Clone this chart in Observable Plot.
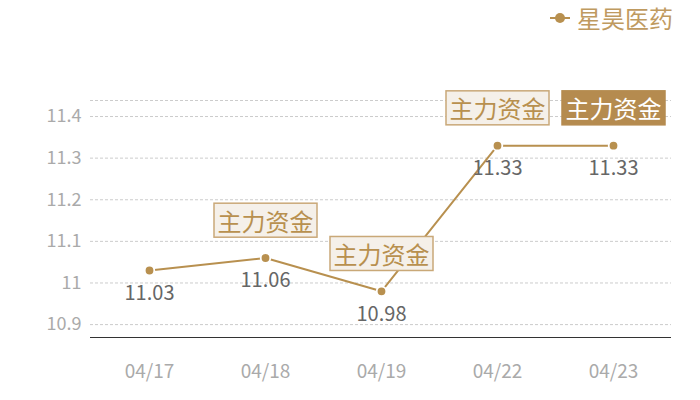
<!DOCTYPE html>
<html>
<head>
<meta charset="utf-8">
<script src="https://cdn.jsdelivr.net/npm/d3@7"></script>
<script src="https://cdn.jsdelivr.net/npm/@observablehq/plot@0.6"></script>
<style>
  html, body { margin: 0; padding: 0; background: #fff; }
  body { width: 700px; height: 400px; position: relative; overflow: hidden; font-family: "Noto Sans CJK SC", "Noto Sans", sans-serif; }
  #legend { position: absolute; top: 2px; left: 549px; display: flex; align-items: center; color: #bf9a60; font-size: 24px; line-height: 32px; }
  #legend svg { margin-right: 6px; }
  #chart { position: absolute; top: 0; left: 0; }
</style>
</head>
<body>
<div id="chart"></div>
<div id="legend"></div>
<script>
const seriesName = "星昊医药";
const dates = ["04/17", "04/18", "04/19", "04/22", "04/23"];
const prices = [11.03, 11.06, 10.98, 11.33, 11.33];
const flagText = "主力资金";
const flags = [0, 1, 1, 1, 2]; // 0 none, 1 outlined tag, 2 filled tag
const yTicks = [10.9, 11, 11.1, 11.2, 11.3, 11.4];
const yMin = 10.869, yMax = 11.4385;

const color = "#b8904f";
const data = dates.map((d, i) => ({date: d, price: prices[i], flag: flags[i]}));
const tagged = data.filter(d => d.flag > 0);

const chart = Plot.plot({
  width: 700,
  height: 400,
  marginLeft: 90,
  marginRight: 29,
  marginTop: 100,
  marginBottom: 63,
  style: {fontFamily: "'Noto Sans CJK SC', 'Noto Sans', sans-serif", background: "transparent"},
  x: {type: "point", domain: dates, padding: 0.5},
  y: {domain: [yMin, yMax]},
  marks: [
    Plot.ruleY(yTicks.concat([yMax]), {stroke: "#ccc", strokeDasharray: "3,2", strokeWidth: 1}),
    Plot.ruleY([yMin], {stroke: "#333", strokeWidth: 1.2}),
    Plot.axisY({ticks: yTicks, tickFormat: d => String(d), tickSize: 0, tickPadding: 9, fontSize: 18, color: "#aaa", label: null}),
    Plot.axisX({tickSize: 0, tickPadding: 27, fontSize: 19, color: "#aaa", label: null}),
    Plot.line(data, {x: "date", y: "price", stroke: color, strokeWidth: 2}),
    Plot.dot(data, {x: "date", y: "price", r: 4.8, fill: color, stroke: "#fff", strokeWidth: 1.8}),
    Plot.text(data, {x: "date", y: "price", text: d => String(d.price), dy: 23, fontSize: 20, fill: "#666"}),
    Plot.text(tagged, {x: "date", y: "price", text: () => flagText, dy: -35, fontSize: 24,
      fill: d => d.flag === 2 ? "#fff" : color, className: "tag"})
  ]
});
document.getElementById("chart").appendChild(chart);

// draw tag boxes behind the tag texts
const tagGroup = chart.querySelector("g.tag") || [...chart.querySelectorAll("g")].find(g => g.getAttribute("class") && g.getAttribute("class").includes("tag"));
if (tagGroup) {
  const texts = [...tagGroup.querySelectorAll("text")];
  texts.forEach((t, i) => {
    const b = t.getBBox();
    const tr = t.getAttribute("transform");
    const r = document.createElementNS("http://www.w3.org/2000/svg", "rect");
    const padX = 3.5;
    const cx = b.x + b.width / 2, cy = b.y + b.height / 2;
    r.setAttribute("x", cx - b.width / 2 - padX);
    r.setAttribute("y", cy - 17);
    r.setAttribute("width", b.width + 2 * padX);
    r.setAttribute("height", 34);
    if (tr) r.setAttribute("transform", tr);
    const d = tagged[i];
    if (d.flag === 2) { r.setAttribute("fill", "#b58b4f"); r.setAttribute("stroke", "#b58b4f"); }
    else { r.setAttribute("fill", "#f5f0e9"); r.setAttribute("stroke", "#c9a878"); }
    r.setAttribute("stroke-width", 1.5);
    tagGroup.insertBefore(r, tagGroup.firstChild);
  });
}

// legend
const leg = document.getElementById("legend");
leg.innerHTML = `<svg width="22" height="14"><line x1="1" x2="21" y1="7" y2="7" stroke="${color}" stroke-width="2"/><circle cx="11" cy="7" r="5" fill="${color}"/></svg><span>${seriesName}</span>`;
</script>
</body>
</html>
